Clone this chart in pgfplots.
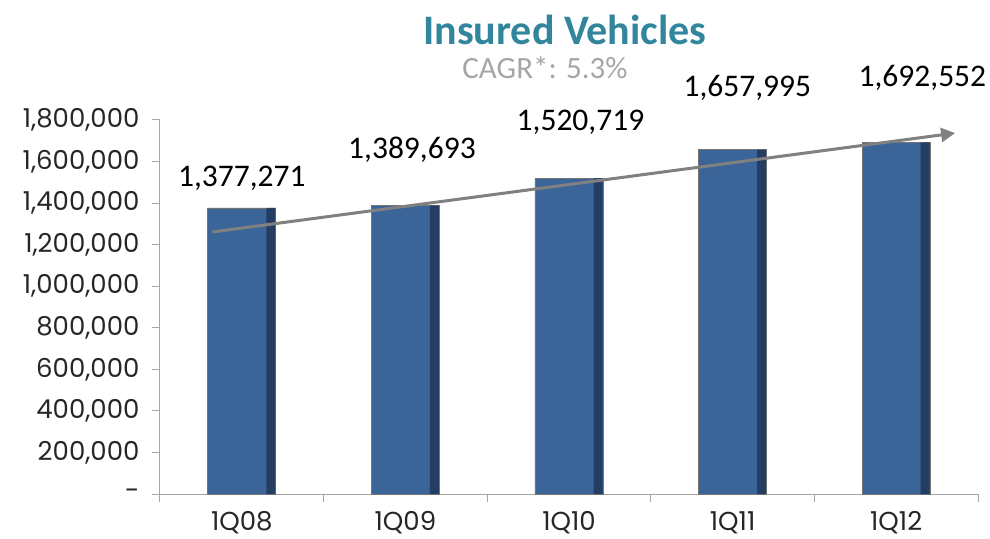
\documentclass[border=0pt]{standalone}
\usepackage{pgfplots}
\pgfplotsset{compat=1.18}
\usepackage{fontspec}
\setmainfont{Carlito}
\newfontfamily\tickfont{Poppins}
\usetikzlibrary{arrows.meta}
\definecolor{barblue}{HTML}{3B6499}
\definecolor{bardark}{HTML}{1B2F4D}
\definecolor{titleteal}{HTML}{31859C}
\definecolor{axisgray}{HTML}{A6A6A6}
\definecolor{arrowgray}{HTML}{808080}
\begin{document}
\begin{tikzpicture}[x=1pt,y=1pt]
\begin{axis}[
    at={(0,0)}, anchor=south west,
    scale only axis,
    width=818pt, height=374pt,
    xmin=-0.5, xmax=4.5,
    ymin=0, ymax=1800000,
    axis x line*=bottom, axis y line*=left,
    axis line style={axisgray, line width=1pt},
    xtick={0,1,2,3,4},
    xticklabels={1Q08,1Q09,1Q10,1Q11,1Q12},
    minor xtick={-0.5,0.5,1.5,2.5,3.5,4.5},
    major x tick style={draw=none},
    minor tick length=8pt,
    ytick={0,200000,...,1800000},
    scaled y ticks=false,
    yticklabels={{\mbox{-}},{200,000},{400,000},{600,000},{800,000},{1,000,000},{1,200,000},{1,400,000},{1,600,000},{1,800,000}},
    major tick length=8pt,
    tick align=outside,
    tick style={axisgray, line width=1pt},
    ticklabel style={font=\tickfont\fontsize{26}{28}\selectfont, text=black!85},
    yticklabel style={xshift=-9pt},
    xticklabel style={yshift=-6pt},
    clip=false,
]
\addplot[ybar, bar width=68pt, fill=barblue, draw=axisgray!70!black, line width=0.6pt]
  coordinates {(0,1377271) (1,1389693) (2,1520719) (3,1657995) (4,1692552)};
% darker right edge of the bars
\addplot[ybar, bar width=9pt, bar shift=29pt, fill=bardark, fill opacity=0.7, draw=none]
  coordinates {(0,1377271) (1,1389693) (2,1520719) (3,1657995) (4,1692552)};
% trend arrow
\addplot[arrowgray, line width=3pt, -{Triangle[width=14pt,length=14pt]}]
  coordinates {(-0.18,1261000) (4.36,1737000)};
% data labels
\node[font=\fontsize{31.5}{33}\selectfont] at (axis cs:0,1520000) {1,377,271};
\node[font=\fontsize{31.5}{33}\selectfont] at (axis cs:1.04,1655000) {1,389,693};
\node[font=\fontsize{31.5}{33}\selectfont] at (axis cs:2.07,1790000) {1,520,719};
\node[font=\fontsize{31.5}{33}\selectfont] at (axis cs:3.09,1954000) {1,657,995};
\node[font=\fontsize{31.5}{33}\selectfont] at (axis cs:4.16,2002000) {1,692,552};
\end{axis}
\node[font=\bfseries\fontsize{42}{44}\selectfont, text=titleteal] at (405pt,464pt) {Insured Vehicles};
\node[font=\fontsize{31}{33}\selectfont, text=axisgray] at (385pt,426pt) {CAGR*: 5.3\%};
\useasboundingbox (-160pt,-44pt) rectangle (830pt,494pt);
\end{tikzpicture}
\end{document}
